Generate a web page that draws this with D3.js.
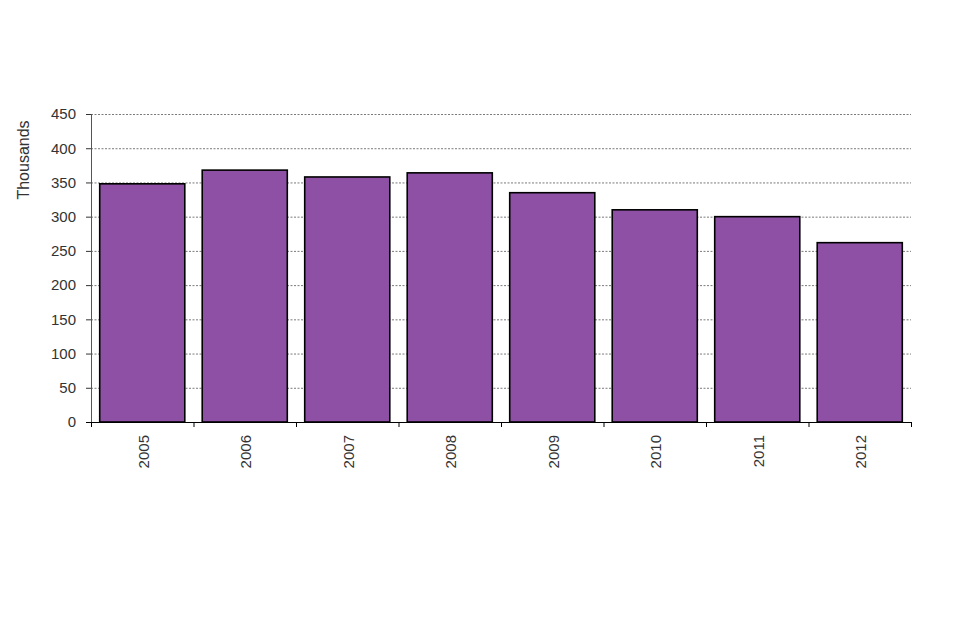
<!DOCTYPE html>
<html><head><meta charset="utf-8">
<script src="https://cdn.jsdelivr.net/npm/d3@7"></script>
<style>body{margin:0;background:#fff}svg{display:block}text{font-family:"Liberation Sans",Arial,sans-serif}</style>
</head><body>
<svg id="c" width="960" height="640"></svg>
<script>
const years = ["2005","2006","2007","2008","2009","2010","2011","2012"];
const values = [348, 368, 358, 364, 335, 310, 300, 262];
const yTicks = [0,50,100,150,200,250,300,350,400,450];

const svg = d3.select("#c");
const L = 91, R = 911, T = 114, B = 422;
const x = d3.scaleBand().domain(years).range([L, R]).paddingInner(0.17).paddingOuter(0.085);
const y = d3.scaleLinear().domain([0, 450]).range([B, T]);

// gridlines
svg.append("g").selectAll("line").data(yTicks.filter(d => d > 0)).join("line")
  .attr("x1", L).attr("x2", R).attr("y1", d => y(d) + 0.5).attr("y2", d => y(d) + 0.5)
  .attr("stroke", "#7a7a7a").attr("stroke-width", 1).attr("stroke-dasharray", "2,1.5");

// bars
svg.append("g").selectAll("rect").data(values).join("rect")
  .attr("x", (d, i) => x(years[i]))
  .attr("y", d => y(d))
  .attr("width", x.bandwidth())
  .attr("height", d => B - y(d))
  .attr("fill", "#8e50a5").attr("stroke", "#000").attr("stroke-width", 1.6);

// y axis
const ya = svg.append("g").attr("transform", `translate(${L},0)`)
  .call(d3.axisLeft(y).tickValues(yTicks).tickSize(5).tickPadding(10));
ya.select(".domain").attr("stroke", "#555").attr("d", `M0.5,${T}V${B}`);
ya.selectAll(".tick line").attr("stroke", "#333");
ya.selectAll("text").attr("font-size", 15).attr("fill", "#333").style("font-family", '"Liberation Sans",Arial,sans-serif');

// x axis
const xBounds = [L].concat(years.map(d => x(d) + x.bandwidth() + x.step() * x.paddingInner() / 2));
xBounds[xBounds.length - 1] = R;
const xa = svg.append("g").attr("transform", `translate(0,${B})`);
xa.append("line").attr("x1", L - 5).attr("x2", R).attr("y1", 0.5).attr("y2", 0.5).attr("stroke", "#000");
xa.selectAll("line.t").data(xBounds).join("line").attr("class", "t")
  .attr("x1", d => d + 0.5).attr("x2", d => d + 0.5).attr("y1", 0).attr("y2", 5).attr("stroke", "#000");
xa.selectAll("text").data(years).join("text")
  .attr("transform", d => `translate(${x(d) + x.bandwidth() / 2 + 6.5},13) rotate(-90)`)
  .attr("text-anchor", "end").attr("font-size", 15).attr("fill", "#333").text(d => d);

// y label
svg.append("text").attr("transform", "translate(29,160) rotate(-90)")
  .attr("text-anchor", "middle").attr("font-size", 16).attr("fill", "#333").text("Thousands");
</script>
</body></html>
